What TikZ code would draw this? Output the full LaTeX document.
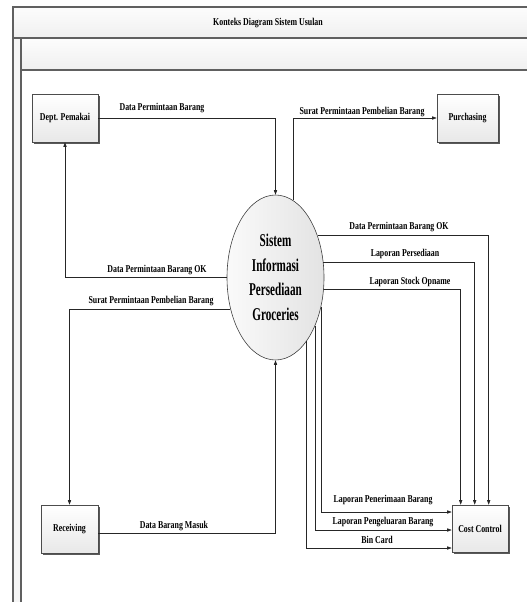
\documentclass[tikz,border=0pt]{standalone}
\usepackage{fontspec}
\setmainfont{Liberation Serif}[FakeStretch=0.75]
\newfontfamily\sysfont{Liberation Serif}[FakeStretch=0.62]
\usetikzlibrary{shapes.geometric,arrows.meta,shadows}
\begin{document}
\begin{tikzpicture}[x=1pt,y=-1pt,
  frameline/.style={draw=gray!75!black,line width=1.2pt},
  entity/.style={rectangle,draw=gray!60!black,line width=0.6pt,top color=white,bottom color=gray!18,
    drop shadow={shadow xshift=1.6pt,shadow yshift=-1.6pt,fill=black!65,opacity=1},
    font=\fontsize{10.5}{12}\selectfont\bfseries,inner sep=0pt},
  proc/.style={ellipse,draw=gray!50!black,line width=0.6pt,left color=gray!4,right color=gray!22,
    minimum width=97pt,minimum height=165pt,inner sep=0pt,align=center,
    font=\sysfont\fontsize{18}{24.5}\selectfont\bfseries},
  flow/.style={draw=gray!30!black,line width=0.6pt,-{Triangle[length=4.5pt,width=3.2pt]}},
  lbl/.style={font=\fontsize{10.5}{12}\selectfont\bfseries,inner sep=0pt}]
\useasboundingbox (0,0) rectangle (527,602);
\clip (0,0) rectangle (527,602);
% frame
\path[top color=gray!2,bottom color=gray!12] (13,7) rectangle (540,38);
\path[top color=gray!2,bottom color=gray!12] (21,38) rectangle (540,70);
\path[fill=gray!8] (13,38) rectangle (21,610);
\draw[frameline] (540,7) -- (13,7) -- (13,610);
\draw[frameline] (13,38) -- (540,38);
\draw[frameline] (21,38) -- (21,610);
\draw[frameline] (21,70) -- (540,70);
\node[lbl] (title) at (268,23) {Konteks Diagram Sistem Usulan};
% nodes
\node[entity,minimum width=66pt,minimum height=48pt] (dept) at (65,118) {Dept. Pemakai};
\node[entity,minimum width=61pt,minimum height=48pt] (purch) at (467.5,118) {Purchasing};
\node[entity,minimum width=57pt,minimum height=48pt] (recv) at (69.5,529) {Receiving};
\node[entity,minimum width=56pt,minimum height=47pt] (cost) at (480,528.5) {Cost Control};
\node[proc] (sys) at (275.5,277.5) {Sistem\\Informasi\\Persediaan\\Groceries};
% flows
\draw[flow] (dept.east) -| (sys.north);
\draw[flow] (sys.west) -| (dept.south);
\draw[flow] (sys.77) |- (purch.west);
\draw[flow] (sys.215) -| (recv.north);
\draw[flow] ([yshift=-4pt]recv.east) -| (sys.south);
\draw[flow] (sys.45.6) -| ([xshift=8.7pt]cost.north);
\draw[flow] (sys.18) -| ([xshift=-5.3pt]cost.north);
\draw[flow] (sys.346.5) -| ([xshift=-19.3pt]cost.north);
\draw[flow] (sys.327.8) |- ([yshift=16.5pt]cost.west);
\draw[flow] (sys.309.5) |- ([yshift=-1.5pt]cost.west);
\draw[flow] (sys.296.7) |- ([yshift=-19.5pt]cost.west);
% labels
\node[lbl] (l1) at (162,108) {Data Permintaan Barang};
\node[lbl] (l2) at (362,112) {Surat Permintaan Pembelian Barang};
\node[lbl] (l3) at (157,270) {Data Permintaan Barang OK};
\node[lbl] (l4) at (151,301) {Surat Permintaan Pembelian Barang};
\node[lbl] (l5) at (174,526) {Data Barang Masuk};
\node[lbl] (l6) at (399,227) {Data Permintaan Barang OK};
\node[lbl] (l7) at (405,254) {Laporan Persediaan};
\node[lbl] (l8) at (410,282) {Laporan Stock Opname};
\node[lbl] (l9) at (383,500) {Laporan Penerimaan Barang};
\node[lbl] (l10) at (383,522) {Laporan Pengeluaran Barang};
\node[lbl] (l11) at (377,540) {Bin Card};
\end{tikzpicture}
\end{document}
